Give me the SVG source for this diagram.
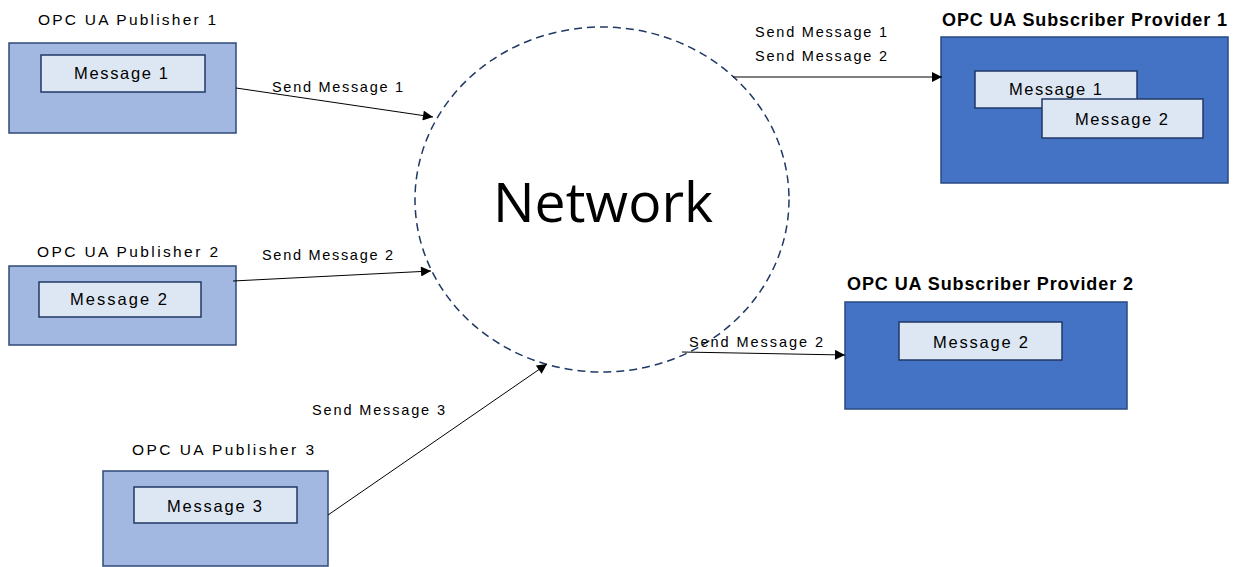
<svg xmlns="http://www.w3.org/2000/svg" width="1240" height="567" viewBox="0 0 1240 567">
<style>
.pub{fill:#A3B8E0;stroke:#2F4A78;stroke-width:1.5}
.sub{fill:#4472C4;stroke:#2A4A80;stroke-width:1.5}
.msg{fill:#DDE7F4;stroke:#1F3864;stroke-width:1.5}
.lbl{font-family:"Liberation Sans",Arial,sans-serif;font-size:15.5px;fill:#000}
.slbl{font-family:"Liberation Sans",Arial,sans-serif;font-size:18px;font-weight:bold;fill:#000}
.mt{font-family:"Liberation Sans",Arial,sans-serif;font-size:16.5px;fill:#000}
.ct{font-family:"Liberation Sans",Arial,sans-serif;font-size:14.5px;fill:#000}
.conn{stroke:#000;stroke-width:1;fill:none}
</style>
<defs>
<marker id="arr" viewBox="0 0 10 10" refX="10" refY="5" markerWidth="11" markerHeight="10" markerUnits="userSpaceOnUse" orient="auto">
<path d="M0,0 L10,5 L0,10 Z" fill="#000"/>
</marker>
</defs>
<rect width="1240" height="567" fill="#fff"/>
<g id="network">
<ellipse cx="602" cy="199.5" rx="187" ry="172.5" fill="none" stroke="#1F3864" stroke-width="1.5" stroke-dasharray="8 5"/>
<text x="603" y="222" text-anchor="middle" font-family="'Open Sans','Noto Sans',sans-serif" font-size="55" fill="#000" textLength="220" lengthAdjust="spacingAndGlyphs">Network</text>
</g>
<g id="publisher1">
<text class="lbl" x="38" y="25" textLength="178" lengthAdjust="spacing">OPC UA Publisher 1</text>
<rect class="pub" x="9" y="43" width="227" height="90"/>
<rect class="msg" x="41" y="55" width="164" height="37"/>
<text class="mt" x="74" y="79" textLength="94" lengthAdjust="spacing">Message 1</text>
</g>
<g id="publisher2">
<text class="lbl" x="37" y="257" textLength="181" lengthAdjust="spacing">OPC UA Publisher 2</text>
<rect class="pub" x="9" y="266" width="227" height="79"/>
<rect class="msg" x="39" y="282" width="162" height="35"/>
<text class="mt" x="70" y="305" textLength="97" lengthAdjust="spacing">Message 2</text>
</g>
<g id="publisher3">
<text class="lbl" x="132" y="455" textLength="182" lengthAdjust="spacing">OPC UA Publisher 3</text>
<rect class="pub" x="103" y="471" width="225" height="95"/>
<rect class="msg" x="134" y="487" width="163" height="36"/>
<text class="mt" x="167" y="512" textLength="95" lengthAdjust="spacing">Message 3</text>
</g>
<g id="subscriber1">
<text class="slbl" x="942" y="26" textLength="285" lengthAdjust="spacing">OPC UA Subscriber Provider 1</text>
<rect class="sub" x="941" y="37" width="287" height="146"/>
<rect class="msg" x="975" y="71" width="162" height="37"/>
<text class="mt" x="1009" y="95" textLength="93" lengthAdjust="spacing">Message 1</text>
<rect class="msg" x="1042" y="99" width="161" height="39"/>
<text class="mt" x="1075" y="125" textLength="93" lengthAdjust="spacing">Message 2</text>
</g>
<g id="subscriber2">
<text class="slbl" x="847" y="290" textLength="286" lengthAdjust="spacing">OPC UA Subscriber Provider 2</text>
<rect class="sub" x="845" y="302" width="282" height="107"/>
<rect class="msg" x="899" y="322" width="163" height="38"/>
<text class="mt" x="933" y="348" textLength="95" lengthAdjust="spacing">Message 2</text>
</g>
<g id="connectors">
<line class="conn" x1="236" y1="88" x2="433" y2="117" marker-end="url(#arr)"/>
<text class="ct" x="272" y="92" textLength="131" lengthAdjust="spacing">Send Message 1</text>
<line class="conn" x1="233" y1="281" x2="431" y2="271" marker-end="url(#arr)"/>
<text class="ct" x="262" y="260" textLength="131" lengthAdjust="spacing">Send Message 2</text>
<line class="conn" x1="328" y1="515" x2="547" y2="364" marker-end="url(#arr)"/>
<text class="ct" x="312" y="415" textLength="133" lengthAdjust="spacing">Send Message 3</text>
<line class="conn" x1="733" y1="77" x2="942" y2="77" marker-end="url(#arr)"/>
<text class="ct" x="755" y="37" textLength="132" lengthAdjust="spacing">Send Message 1</text>
<text class="ct" x="755" y="61" textLength="132" lengthAdjust="spacing">Send Message 2</text>
<line class="conn" x1="682" y1="352" x2="845" y2="355" marker-end="url(#arr)"/>
<text class="ct" x="689" y="347" textLength="134" lengthAdjust="spacing">Send Message 2</text>
</g>
</svg>
